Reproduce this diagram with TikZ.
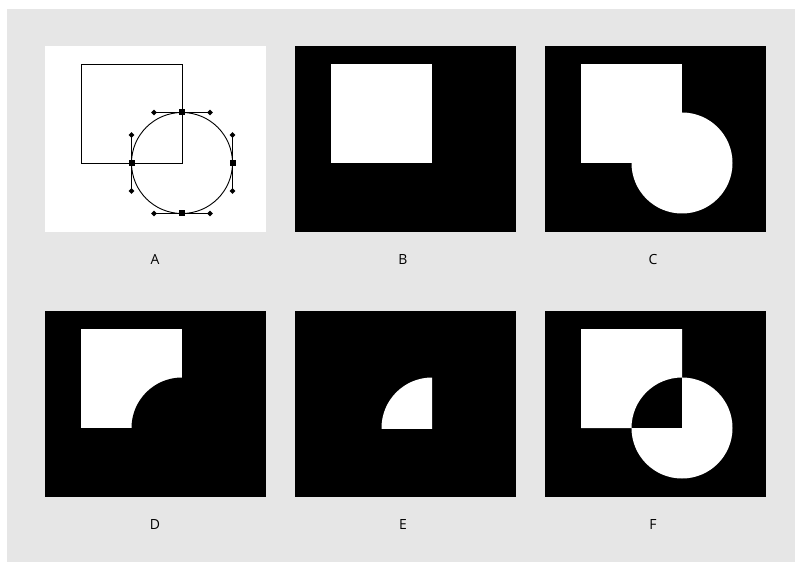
\documentclass[tikz,border=0pt]{standalone}
\usepackage{fontspec}
\setmainfont{Open Sans}
\usepackage{xcolor}
\usepackage{tikz}
\usetikzlibrary{positioning,shapes.geometric}
\definecolor{pagegray}{HTML}{E6E6E6}
\tikzset{
  panel/.style={fill=black},
  hole/.style={fill=white},
  outline/.style={draw=black, line width=0.9bp},
  handleline/.style={draw=black, line width=0.8bp},
  anchorpt/.style={rectangle, fill=black, minimum size=6bp, inner sep=0pt},
  handlept/.style={diamond, fill=black, minimum size=6bp, inner sep=0pt},
  caption/.style={font=\fontsize{14}{16}\selectfont, inner sep=0pt}
}

\begin{document}
\begin{tikzpicture}[x=1bp,y=-1bp]
  \useasboundingbox (0,0) rectangle (795,562);
  \fill[white] (0,0) rectangle (795,562);
  \fill[pagegray] (7,9) rectangle (795,562);

  % A: the two paths
  \begin{scope}[shift={(45,46)}]
    \fill[hole] (0,0) rectangle (221,186);
    \draw[outline] (36,18) rectangle (137,117);
    \draw[outline] (137,117) circle[radius=50.5];
    \draw[handleline] (109,66.5) -- (165,66.5);
    \draw[handleline] (109,167.5) -- (165,167.5);
    \draw[handleline] (86.5,89) -- (86.5,145);
    \draw[handleline] (187.5,89) -- (187.5,145);
    \foreach \hx/\hy in {109/66.5,165/66.5,109/167.5,165/167.5,86.5/89,86.5/145,187.5/89,187.5/145}
      \node[handlept] at (\hx,\hy) {};
    \node[anchorpt] (topA) at (137,66.5) {};
    \node[anchorpt] (botA) at (137,167.5) {};
    \node[anchorpt] (leftA) at (86.5,117) {};
    \node[anchorpt] (rightA) at (187.5,117) {};
  \end{scope}

  % B: square only
  \begin{scope}[shift={(295,46)}]
    \fill[panel] (0,0) rectangle (221,186);
    \fill[hole] (36,18) rectangle (137,117);
  \end{scope}

  % C: union
  \begin{scope}[shift={(545,46)}]
    \fill[panel] (0,0) rectangle (221,186);
    \fill[hole] (36,18) rectangle (137,117);
    \fill[hole] (137,117) circle[radius=50.5];
  \end{scope}

  % D: minus front
  \begin{scope}[shift={(45,311)}]
    \fill[panel] (0,0) rectangle (221,186);
    \fill[hole] (36,18) rectangle (137,117);
    \fill[panel] (137,117) circle[radius=50.5];
  \end{scope}

  % E: intersect
  \begin{scope}[shift={(295,311)}]
    \fill[panel] (0,0) rectangle (221,186);
    \clip (36,18) rectangle (137,117);
    \fill[hole] (137,117) circle[radius=50.5];
  \end{scope}

  % F: exclude
  \begin{scope}[shift={(545,311)}]
    \fill[panel] (0,0) rectangle (221,186);
    \fill[hole, even odd rule] (36,18) rectangle (137,117)
      (137,117) circle[radius=50.5];
  \end{scope}

  \node[caption] (labA) at (155,260) {A};
  \node[caption] (labB) at (403,260) {B};
  \node[caption] (labC) at (653,260) {C};
  \node[caption] (labD) at (155,525) {D};
  \node[caption] (labE) at (403,525) {E};
  \node[caption] (labF) at (653,525) {F};
\end{tikzpicture}
\end{document}
